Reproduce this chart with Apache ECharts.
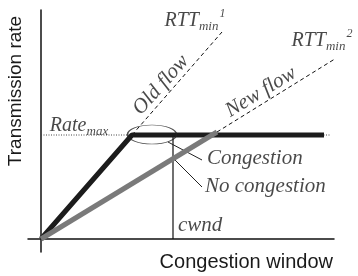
<!DOCTYPE html>
<html>
<head>
<meta charset="utf-8">
<script src="https://cdn.jsdelivr.net/npm/echarts@6/dist/echarts.min.js"></script>
<style>
  html, body { margin: 0; padding: 0; background: #fff; }
  #chart { width: 358px; height: 276px; }
</style>
</head>
<body>
<div id="chart"></div>
<script>
// schematic data, in (congestion window, transmission rate) units
const oldFlow = [[0, 0], [91, 104], [283, 104]]
const oldFlowRtt = [[91, 104], [181, 207]]
const newFlow = [[0, 0], [176, 107]]
const newFlowRtt = [[176, 107], [297, 182]]
const rateMax = [[0, 104], [289, 104]]
const cwnd = [[132, 0], [132, 102]]
const congestionPointer = [[127, 97], [161, 79]]
const noCongestionPointer = [[131, 82], [161, 52]]
const kneeMark = [[111, 104.5]]

const xRange = [-13, 293]
const yRange = [-13, 229]

const chart = echarts.init(document.getElementById('chart'))

const serif = 'Liberation Serif'
const ink = '#1a1a1a'

// plain line helper
function line(data, color, width, type, z) {
  return {
    type: 'line',
    data: data,
    symbol: 'none',
    silent: true,
    animation: false,
    z: z || 2,
    lineStyle: { color: color, width: width, type: type || 'solid', cap: 'butt' }
  }
}

// text annotation helper: anchor given in data units
function note(at, text, opts) {
  opts = opts || {}
  const size = opts.size || 21
  return {
    value: at,
    label: {
      show: true,
      position: 'inside',
      formatter: text,
      rotate: opts.rotate || 0,
      align: opts.align || 'center',
      verticalAlign: 'middle',
      color: ink,
      fontFamily: serif,
      fontStyle: 'italic',
      fontSize: size,
      rich: {
        a: { fontFamily: serif, fontStyle: 'italic', fontSize: size, color: ink },
        s: { fontFamily: serif, fontStyle: 'italic', fontSize: 13, color: ink, padding: [12, 0, 0, 0] },
        p: { fontFamily: serif, fontStyle: 'italic', fontSize: 12, color: ink, padding: [0, 0, 14, 1] }
      }
    }
  }
}

const notes = [
  note([38, 113], '{a|Rate}{s|max}', { size: 20 }),
  note([154, 218], '{a|RTT}{s|min}{p|1}', { size: 20 }),
  note([281, 198], '{a|RTT}{s|min}{p|2}', { size: 20 }),
  note([120, 154], 'Old flow', { rotate: 48 }),
  note([220, 147], 'New flow', { rotate: 31.5 }),
  note([166, 81], 'Congestion', { align: 'left' }),
  note([164, 53], 'No congestion', { align: 'left' }),
  note([137, 14], 'cwnd', { align: 'left' })
]

const option = {
  animation: false,
  grid: { left: 28, right: 24, top: 10, bottom: 24 },
  xAxis: {
    type: 'value',
    min: xRange[0],
    max: xRange[1],
    axisLine: { show: true, lineStyle: { color: '#111', width: 1.5 } },
    axisTick: { show: false },
    axisLabel: { show: false },
    splitLine: { show: false }
  },
  yAxis: {
    type: 'value',
    min: yRange[0],
    max: yRange[1],
    axisLine: { show: true, lineStyle: { color: '#111', width: 1.5 } },
    axisTick: { show: false },
    axisLabel: { show: false },
    splitLine: { show: false }
  },
  graphic: [
    {
      type: 'text',
      x: 333,
      y: 262,
      style: { text: 'Congestion window', fill: ink, font: '20px "Liberation Sans"', align: 'right', verticalAlign: 'middle' }
    },
    {
      type: 'text',
      x: 16,
      y: 91,
      rotation: Math.PI / 2,
      style: { text: 'Transmission rate', fill: ink, font: '19px "Liberation Sans"', align: 'center', verticalAlign: 'middle' }
    }
  ],
  series: [
    line(rateMax, '#444', 1, [1, 1.5], 1),
    line(oldFlowRtt, '#111', 1, [4, 3]),
    line(newFlowRtt, '#111', 1, [4, 3]),
    line(cwnd, '#111', 1.2),
    line(congestionPointer, '#222', 1),
    line(noCongestionPointer, '#222', 1),
    line(oldFlow, '#1c1c1c', 5, 'solid', 3),
    line(newFlow, '#7a7a7a', 5, 'solid', 4),
    {
      type: 'scatter',
      data: kneeMark,
      symbol: 'circle',
      symbolSize: [49, 19],
      silent: true,
      z: 5,
      itemStyle: { color: 'rgba(0,0,0,0)', borderColor: '#222', borderWidth: 1 }
    },
    {
      type: 'scatter',
      data: notes,
      symbolSize: 0,
      silent: true,
      z: 6
    }
  ]
}

chart.setOption(option)
</script>
</body>
</html>
